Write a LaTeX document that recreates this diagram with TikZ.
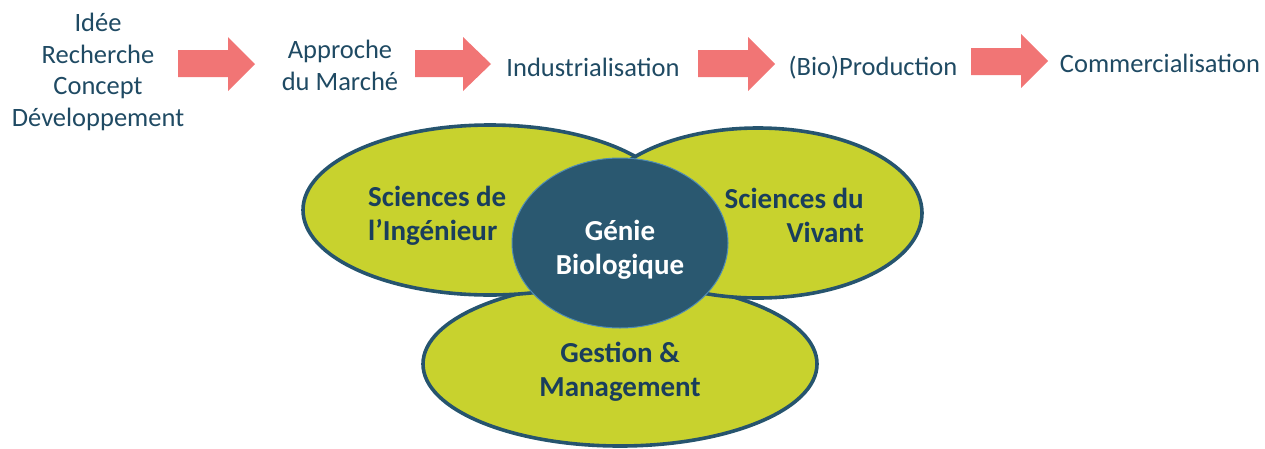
\documentclass[tikz,border=0pt]{standalone}
\usepackage{fontspec}
\setmainfont{Carlito}
\definecolor{txt}{RGB}{31,74,99}
\definecolor{arr}{RGB}{241,117,117}
\definecolor{lime}{RGB}{200,210,46}
\definecolor{edge}{RGB}{38,84,110}
\definecolor{core}{RGB}{42,88,112}
\definecolor{coreedge}{RGB}{80,140,180}
\definecolor{boldtxt}{RGB}{26,62,92}
\begin{document}
\begin{tikzpicture}[x=1pt,y=-1pt,
  steptext/.style={inner sep=0pt,text=txt,font=\fontsize{26.5}{31.5}\selectfont,align=center},
  blobtext/.style={inner sep=0pt,text=boldtxt,font=\fontsize{29}{34}\selectfont\bfseries},
  blob/.style={draw=edge,line width=3.6pt,fill=lime},
  blockarrow/.style={fill=arr}]
\useasboundingbox (0,0) rectangle (1265,448);
% top row (base anchor = baseline of last line)
\node[steptext,anchor=base] (s1) at (98,126) {Idée\\Recherche\\Concept\\Développement};
\node[steptext,anchor=base] (s2) at (340,90) {Approche\\du Marché};
\node[steptext,anchor=base] (s3) at (593,76) {Industrialisation};
\node[steptext,anchor=base] (s4) at (873,75) {(Bio)Production};
\node[steptext,anchor=base] (s5) at (1160,72) {Commercialisation};
% block arrows
\fill[blockarrow] (178,50) -- (228,50) -- (228,37) -- (255,64) -- (228,91) -- (228,77) -- (178,77) -- cycle;
\fill[blockarrow] (415,50) -- (463,50) -- (463,37) -- (491,64) -- (463,91) -- (463,77) -- (415,77) -- cycle;
\fill[blockarrow] (698,50) -- (748,50) -- (748,37) -- (775,64) -- (748,91) -- (748,77) -- (698,77) -- cycle;
\fill[blockarrow] (971,48) -- (1021,48) -- (1021,34) -- (1048,61) -- (1021,88) -- (1021,75) -- (971,75) -- cycle;
% ellipses
\draw[blob] (620,364) ellipse [x radius=197,y radius=82];
\draw[blob] (490,210) ellipse [x radius=187,y radius=85];
\draw[blob] (758,213) ellipse [x radius=164,y radius=85];
\draw[coreedge,line width=1pt,fill=core] (620,243) ellipse [x radius=108,y radius=85];
% labels
\node[blobtext,align=left,anchor=base west] (ing) at (368,240) {Sciences de\\l’Ingénieur};
\node[blobtext,align=right,anchor=base east] (viv) at (864,242) {Sciences du\\Vivant};
\node[blobtext,align=center,anchor=base,text=white] (gen) at (620,274) {Génie\\Biologique};
\node[blobtext,align=center,anchor=base] (ges) at (620,396) {Gestion \&\\Management};
\end{tikzpicture}
\end{document}
